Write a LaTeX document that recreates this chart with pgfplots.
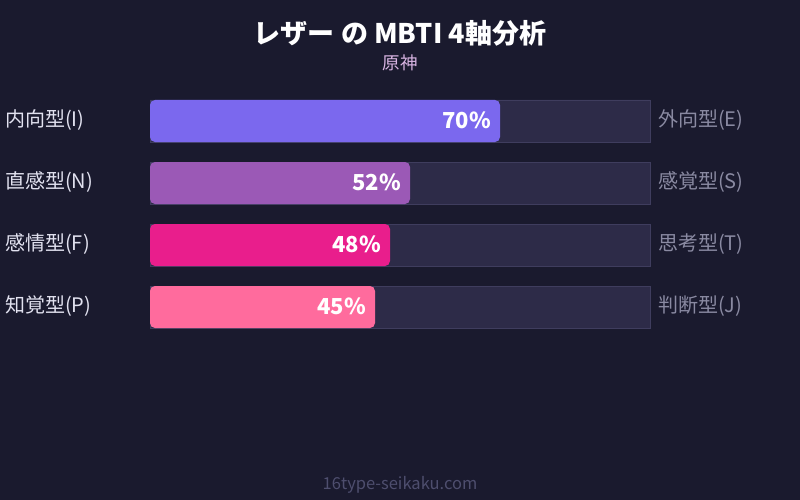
\documentclass[border=0pt]{standalone}
\usepackage{pgfplots}
\pgfplotsset{compat=1.18}
\usepackage{fontspec}
\setmainfont{Noto Sans CJK JP}

\definecolor{bg}{HTML}{1A1A2E}
\definecolor{track}{HTML}{2D2B48}
\definecolor{trackline}{HTML}{3F3D5E}
\definecolor{cI}{HTML}{7B68EE}
\definecolor{cN}{HTML}{9B59B6}
\definecolor{cF}{HTML}{E91E8C}
\definecolor{cP}{HTML}{FF6B9D}
\definecolor{lefttext}{HTML}{E2E2F0}
\definecolor{righttext}{HTML}{8A8AA2}
\definecolor{subtitle}{HTML}{D8B4E2}
\definecolor{foot}{HTML}{4E4E6E}

\begin{document}
\begin{tikzpicture}
\begin{axis}[
    scale only axis,
    width=800pt, height=500pt,
    xmin=-30, xmax=130,
    ymin=0, ymax=500,
    y dir=reverse,
    hide axis,
    clip=false,
]
% background
\fill[bg] (axis cs:-30,0) rectangle (axis cs:130,500);

% tracks
\addplot[xbar, bar width=42, bar shift=0pt, fill=track, draw=trackline, line width=0.8pt]
    coordinates {(100,121) (100,183) (100,245) (100,307)};

% values
\addplot[xbar, bar width=42, bar shift=0pt, fill=cI, draw=none, rounded corners=5pt]
    coordinates {(70,121)};
\addplot[xbar, bar width=42, bar shift=0pt, fill=cN, draw=none, rounded corners=5pt]
    coordinates {(52,183)};
\addplot[xbar, bar width=42, bar shift=0pt, fill=cF, draw=none, rounded corners=5pt]
    coordinates {(48,245)};
\addplot[xbar, bar width=42, bar shift=0pt, fill=cP, draw=none, rounded corners=5pt]
    coordinates {(45,307)};

% value labels
\begin{scope}[every node/.style={anchor=east, text=white, inner sep=0pt, font=\fontsize{22}{26}\selectfont\bfseries}]
\node at (axis cs:68.2,120) {70\%};
\node at (axis cs:50.2,182) {52\%};
\node at (axis cs:46.2,244) {48\%};
\node at (axis cs:43.2,306) {45\%};
\end{scope}

% left labels
\begin{scope}[every node/.style={anchor=west, text=lefttext, font=\fontsize{20}{24}\selectfont, inner sep=0pt}]
\node at (axis cs:-29,120) {内向型(I)};
\node at (axis cs:-29,182) {直感型(N)};
\node at (axis cs:-29,244) {感情型(F)};
\node at (axis cs:-29,306) {知覚型(P)};
\end{scope}

% right labels
\begin{scope}[every node/.style={anchor=west, text=righttext, font=\fontsize{20}{24}\selectfont, inner sep=0pt}]
\node at (axis cs:101.6,120) {外向型(E)};
\node at (axis cs:101.6,182) {感覚型(S)};
\node at (axis cs:101.6,244) {思考型(T)};
\node at (axis cs:101.6,306) {判断型(J)};
\end{scope}

% titles
\node[text=white, font=\fontsize{27}{32}\selectfont\bfseries] at (axis cs:50,33) {レザー の MBTI 4軸分析};
\node[text=subtitle, font=\fontsize{17.5}{21}\selectfont] at (axis cs:50,63) {原神};
\node[text=foot, font=\fontsize{16.5}{20}\selectfont] at (axis cs:50,485) {16type-seikaku.com};
\end{axis}
\end{tikzpicture}
\end{document}
